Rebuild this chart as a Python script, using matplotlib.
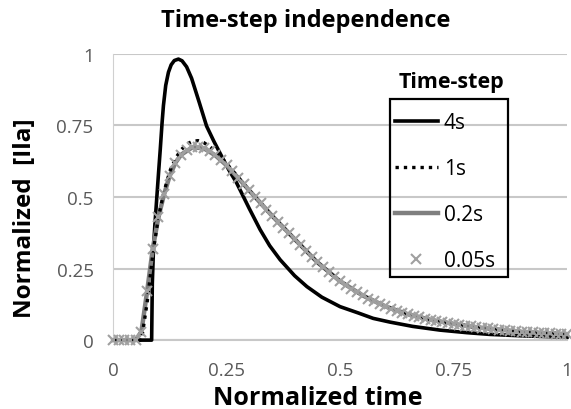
import matplotlib
matplotlib.use('Agg')
import matplotlib.pyplot as plt
from matplotlib.patches import Rectangle

plt.rcParams['font.family'] = ['Open Sans', 'DejaVu Sans']

# 4s series (black solid)
t_4s = [0, 0.085, 0.0865, 0.089, 0.092, 0.096, 0.1, 0.104, 0.108, 0.111, 0.116,
        0.122, 0.128, 0.135, 0.144, 0.152, 0.162, 0.173, 0.19, 0.206, 0.222, 0.239,
        0.255, 0.272, 0.3, 0.324, 0.345, 0.368, 0.4, 0.427, 0.46, 0.5, 0.54, 0.573,
        0.61, 0.66, 0.72, 0.78, 0.83, 0.9, 1.0]
y_4s = [0, 0, 0.2, 0.316, 0.40, 0.49, 0.58, 0.667, 0.76, 0.82, 0.89,
        0.936, 0.962, 0.977, 0.982, 0.976, 0.955, 0.915, 0.83, 0.748, 0.695, 0.643,
        0.595, 0.55, 0.46, 0.386, 0.33, 0.281, 0.225, 0.187, 0.15, 0.117, 0.095, 0.076,
        0.063, 0.048, 0.035, 0.026, 0.02, 0.015, 0.01]

# 1s series (black dotted)
t_1s = [0, 0.0625, 0.075, 0.0875, 0.1, 0.1125, 0.125, 0.1375, 0.15, 0.1625, 0.175,
        0.1875, 0.2, 0.2125, 0.225, 0.2375, 0.25, 0.2625, 0.275, 0.3, 0.35, 0.4,
        0.45, 0.5, 0.55, 0.6, 0.65, 0.7, 0.75, 0.8, 0.85, 0.9, 0.95, 1.0]
y_1s = [0, 0, 0.13, 0.30, 0.43, 0.52, 0.59, 0.635, 0.665, 0.685, 0.695,
        0.697, 0.69, 0.677, 0.66, 0.64, 0.617, 0.594, 0.570, 0.523, 0.435, 0.353,
        0.272, 0.206, 0.156, 0.118, 0.090, 0.071, 0.057, 0.045, 0.037, 0.029, 0.025, 0.021]

# 0.2s series (gray solid)
t_02 = [0, 0.05, 0.0625, 0.075, 0.0875, 0.1, 0.1125, 0.125, 0.1375, 0.15, 0.175,
        0.2, 0.225, 0.25, 0.275, 0.3, 0.35, 0.4, 0.45, 0.5, 0.55, 0.6, 0.65, 0.7,
        0.75, 0.8, 0.85, 0.9, 0.95, 1.0]
y_02 = [0, 0, 0.03, 0.17, 0.32, 0.43, 0.51, 0.575, 0.62, 0.648, 0.674,
        0.670, 0.646, 0.611, 0.568, 0.523, 0.435, 0.353, 0.272, 0.206, 0.156, 0.118,
        0.090, 0.071, 0.057, 0.045, 0.037, 0.029, 0.025, 0.021]

# 0.05s series (light gray crosses)
t_005 = [0, 0.0125, 0.025, 0.0375, 0.05, 0.0625, 0.075, 0.0875, 0.1, 0.1125,
         0.125, 0.1375, 0.15, 0.1625, 0.175, 0.1875, 0.2, 0.2125, 0.225, 0.2375,
         0.25, 0.2625, 0.275, 0.2875, 0.3, 0.3125, 0.325, 0.3375, 0.35, 0.3625,
         0.375, 0.3875, 0.4, 0.4125, 0.425, 0.4375, 0.45, 0.4625, 0.475, 0.4875,
         0.5, 0.5125, 0.525, 0.5375, 0.55, 0.5625, 0.575, 0.5875, 0.6, 0.6125,
         0.625, 0.6375, 0.65, 0.6625, 0.675, 0.6875, 0.7, 0.7125, 0.725, 0.7375,
         0.75, 0.7625, 0.775, 0.7875, 0.8, 0.8125, 0.825, 0.8375, 0.85, 0.8625,
         0.875, 0.8875, 0.9, 0.9125, 0.925, 0.9375, 0.95, 0.9625, 0.975, 0.9875, 1.0]
y_005 = [0, 0, 0, 0, 0, 0.03, 0.17, 0.32, 0.43, 0.51,
         0.575, 0.62, 0.648, 0.665, 0.674, 0.675, 0.670, 0.660, 0.646, 0.630,
         0.611, 0.590, 0.568, 0.546, 0.523, 0.500, 0.478, 0.456, 0.435, 0.414,
         0.393, 0.373, 0.353, 0.334, 0.310, 0.290, 0.272, 0.254, 0.237, 0.221,
         0.206, 0.192, 0.179, 0.167, 0.156, 0.145, 0.135, 0.126, 0.118, 0.110,
         0.102, 0.096, 0.090, 0.085, 0.080, 0.075, 0.071, 0.067, 0.063, 0.060,
         0.057, 0.054, 0.051, 0.048, 0.045, 0.043, 0.041, 0.039, 0.037, 0.035,
         0.033, 0.031, 0.029, 0.028, 0.027, 0.026, 0.025, 0.024, 0.023, 0.022, 0.021]

ticks = [0, 0.25, 0.5, 0.75, 1]
tick_labels = ['0', '0.25', '0.5', '0.75', '1']

fig = plt.figure(figsize=(5.71, 4.10), dpi=100)
ax = fig.add_axes([0.198, 0.168, 0.795, 0.698])

ax.plot(t_4s, y_4s, color='black', lw=2.6, label='4s', zorder=3, clip_on=False)
ax.plot(t_1s, y_1s, color='black', lw=2.4, ls=(0, (1, 1.5)), label='1s', zorder=4, clip_on=False)
ax.plot(t_02, y_02, color='#7f7f7f', lw=3.2, label='0.2s', zorder=3, clip_on=False)
ax.plot(t_005, y_005, ls='none', marker='x', ms=7, mew=1.5, color='#a0a0a0',
        label='0.05s', zorder=5, clip_on=False)

ax.set_xlim(0, 1)
ax.set_ylim(0, 1)
ax.set_xticks(ticks)
ax.set_xticklabels(tick_labels)
ax.set_yticks(ticks)
ax.set_yticklabels(tick_labels)
ax.tick_params(length=0, labelsize=13.5, colors='#595959')
ax.tick_params(axis='x', pad=15)
ax.tick_params(axis='y', pad=14)
ax.yaxis.grid(True, color='#c8c8c8', lw=1.5)
ax.set_axisbelow(True)
for s in ['top', 'right']:
    ax.spines[s].set_visible(False)
ax.spines['left'].set_color('#d0d0d0')
ax.spines['bottom'].set_color('#c8c8c8')
ax.spines['bottom'].set_linewidth(1.5)

fig.text(0.536, 0.935, 'Time-step independence', ha='center', va='baseline',
         fontsize=17, fontweight='bold')
fig.text(0.557, 0.013, 'Normalized time', ha='center', va='baseline',
         fontsize=18, fontweight='bold')
fig.text(0.044, 0.468, 'Normalized  [Ila]', ha='center', va='center',
         rotation=90, fontsize=17.5, fontweight='bold')

# legend box (frame drawn separately, as in the original the title sits above it)
leg = ax.legend(loc='upper left', bbox_to_anchor=(0.686, 0.732),
                bbox_transform=fig.transFigure, fontsize=15, frameon=False,
                borderpad=0.15, borderaxespad=0,
                handlelength=2.05, handletextpad=0.3, labelspacing=1.2)
fig.patches.append(Rectangle((0.683, 0.322), 0.207, 0.434, transform=fig.transFigure,
                             fill=False, edgecolor='black', lw=1.6, zorder=10))
fig.text(0.79, 0.785, 'Time-step', ha='center', va='baseline',
         fontsize=15.5, fontweight='bold')

fig.savefig('out.png', dpi=100)
